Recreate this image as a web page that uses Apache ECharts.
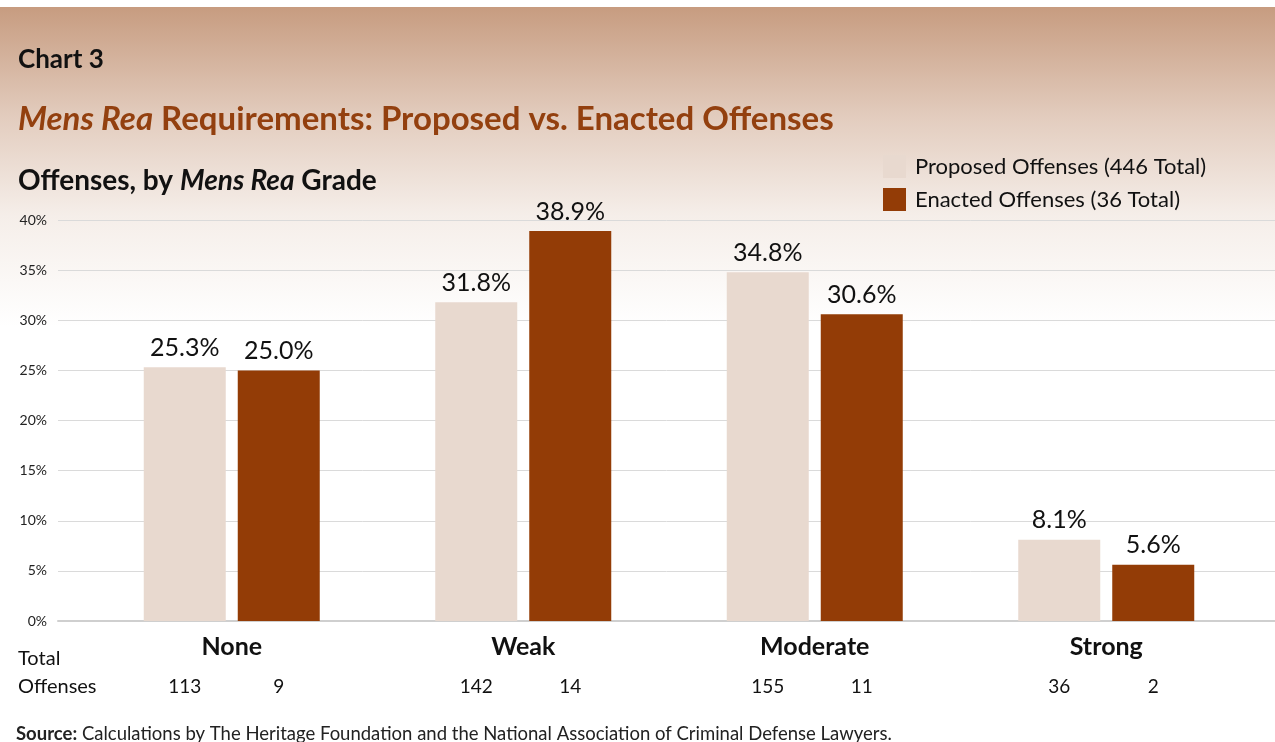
<!DOCTYPE html>
<html>
<head>
<meta charset="utf-8">
<script src="https://cdn.jsdelivr.net/npm/echarts@6/dist/echarts.min.js"></script>
<style>
  html, body { margin: 0; padding: 0; background: #ffffff; }
  #chart { width: 1275px; height: 742px; }
</style>
</head>
<body>
<div id="chart"></div>
<script>
// Mens rea grades and share of offenses in each grade
const categories = ['None', 'Weak', 'Moderate', 'Strong'];
const proposedPct = [25.3, 31.8, 34.8, 8.1];
const enactedPct = [25.0, 38.9, 30.6, 5.6];
const proposedCount = [113, 142, 155, 36];
const enactedCount = [9, 14, 11, 2];
const seriesNames = ['Proposed Offenses (446 Total)', 'Enacted Offenses (36 Total)'];
const yTicks = { min: 0, max: 40, interval: 5 };

const FONT = 'Lato, "Open Sans", sans-serif';
const BAR_W = 82;
const BAR_GAP = 12;
const COLOR_PROPOSED = '#e8d9cf';
const COLOR_ENACTED = '#933c06';

const chart = echarts.init(document.getElementById('chart'));

// Counts printed under each bar, offset to the bar's slot within the category
function countSeries(counts, side) {
  return {
    type: 'custom',
    xAxisIndex: 1,
    yAxisIndex: 1,
    silent: true,
    z: 5,
    data: counts.map((c, i) => [i, 0, c]),
    renderItem: function (params, api) {
      const base = api.coord([api.value(0), 0]);
      const dx = side * (BAR_W / 2 + BAR_GAP / 2);
      return {
        type: 'text',
        x: base[0] + dx,
        y: base[1] + 66,
        style: {
          text: String(api.value(2)),
          fontFamily: FONT,
          fontSize: 19,
          fill: '#111',
          align: 'center',
          verticalAlign: 'middle'
        }
      };
    }
  };
}

const option = {
  animation: false,
  backgroundColor: '#ffffff',
  textStyle: { fontFamily: FONT },
  graphic: [
    {
      type: 'rect',
      z: -10,
      silent: true,
      shape: { x: 0, y: 7, width: 1275, height: 320 },
      style: {
        fill: new echarts.graphic.LinearGradient(0, 0, 0, 1, [
          { offset: 0, color: '#c79c80' },
          { offset: 0.35, color: '#e3cdbf' },
          { offset: 0.65, color: '#f5eee9' },
          { offset: 1, color: '#ffffff' }
        ])
      }
    },
    {
      type: 'text', left: 18, top: 47, silent: true,
      style: { text: 'Chart 3', fontFamily: FONT, fontSize: 26, fontWeight: 'bold', fill: '#111' }
    },
    {
      type: 'text', left: 18, top: 103, silent: true,
      style: {
        text: '{i|Mens Rea}{b| Requirements: Proposed vs. Enacted Offenses}',
        rich: {
          i: { fontFamily: FONT, fontSize: 33, fontWeight: 'bold', fontStyle: 'italic', fill: '#93400f' },
          b: { fontFamily: FONT, fontSize: 33, fontWeight: 'bold', fill: '#93400f' }
        }
      }
    },
    {
      type: 'text', left: 18, top: 167, silent: true,
      style: {
        text: '{b|Offenses, by }{i|Mens Rea}{b| Grade}',
        rich: {
          i: { fontFamily: FONT, fontSize: 28, fontWeight: 'bold', fontStyle: 'italic', fill: '#111' },
          b: { fontFamily: FONT, fontSize: 28, fontWeight: 'bold', fill: '#111' }
        }
      }
    },
    {
      type: 'text', left: 18, top: 645, silent: true,
      style: { text: 'Total\nOffenses', fontFamily: FONT, fontSize: 20, lineHeight: 28, fill: '#111' }
    },
    {
      type: 'text', left: 16, top: 725, silent: true,
      style: {
        text: '{b|Source:}{r| Calculations by The Heritage Foundation and the National Association of Criminal Defense Lawyers.}',
        rich: {
          b: { fontFamily: FONT, fontSize: 18.5, fontWeight: 'bold', fill: '#222' },
          r: { fontFamily: FONT, fontSize: 18.5, fill: '#222' }
        }
      }
    }
  ],
  legend: {
    orient: 'vertical',
    left: 878,
    top: 150,
    itemWidth: 23,
    itemHeight: 23,
    itemGap: 10,
    icon: 'rect',
    selectedMode: false,
    data: seriesNames,
    textStyle: { fontFamily: FONT, fontSize: 22, color: '#111', padding: [0, 0, 0, 4] }
  },
  grid: [
    { left: 58, right: 0, top: 220, bottom: 121 },
    { left: 86, right: 23, top: 220, bottom: 121 }
  ],
  xAxis: [
    {
      gridIndex: 0, type: 'category', data: categories,
      axisLine: { show: true, lineStyle: { color: '#cfcfcf', width: 2 } },
      axisTick: { show: false }, axisLabel: { show: false }
    },
    {
      gridIndex: 1, type: 'category', data: categories,
      axisLine: { show: false }, axisTick: { show: false },
      axisLabel: {
        margin: 13,
        fontFamily: FONT, fontSize: 25, fontWeight: 'bold', color: '#111'
      }
    }
  ],
  yAxis: [
    {
      gridIndex: 0, type: 'value', min: yTicks.min, max: yTicks.max, interval: yTicks.interval,
      axisLine: { show: false }, axisTick: { show: false },
      splitLine: { show: true, lineStyle: { color: '#dadada', width: 1 } },
      axisLabel: {
        margin: 11, fontFamily: FONT, fontSize: 14, color: '#222',
        formatter: v => v + '%'
      }
    },
    {
      gridIndex: 1, type: 'value', min: yTicks.min, max: yTicks.max, interval: yTicks.interval,
      axisLine: { show: false }, axisTick: { show: false },
      splitLine: { show: false }, axisLabel: { show: false }
    }
  ],
  series: [
    {
      name: seriesNames[0], type: 'bar', xAxisIndex: 1, yAxisIndex: 1,
      data: proposedPct, barWidth: BAR_W, barGap: (BAR_GAP / BAR_W * 100) + '%',
      itemStyle: { color: COLOR_PROPOSED },
      label: {
        show: true, position: 'top', distance: 7,
        fontFamily: FONT, fontSize: 25, color: '#111',
        formatter: p => p.value.toFixed(1) + '%'
      }
    },
    {
      name: seriesNames[1], type: 'bar', xAxisIndex: 1, yAxisIndex: 1,
      data: enactedPct, barWidth: BAR_W,
      itemStyle: { color: COLOR_ENACTED },
      label: {
        show: true, position: 'top', distance: 7,
        fontFamily: FONT, fontSize: 25, color: '#111',
        formatter: p => p.value.toFixed(1) + '%'
      }
    },
    countSeries(proposedCount, -1),
    countSeries(enactedCount, 1)
  ]
};

chart.setOption(option);
</script>
</body>
</html>
